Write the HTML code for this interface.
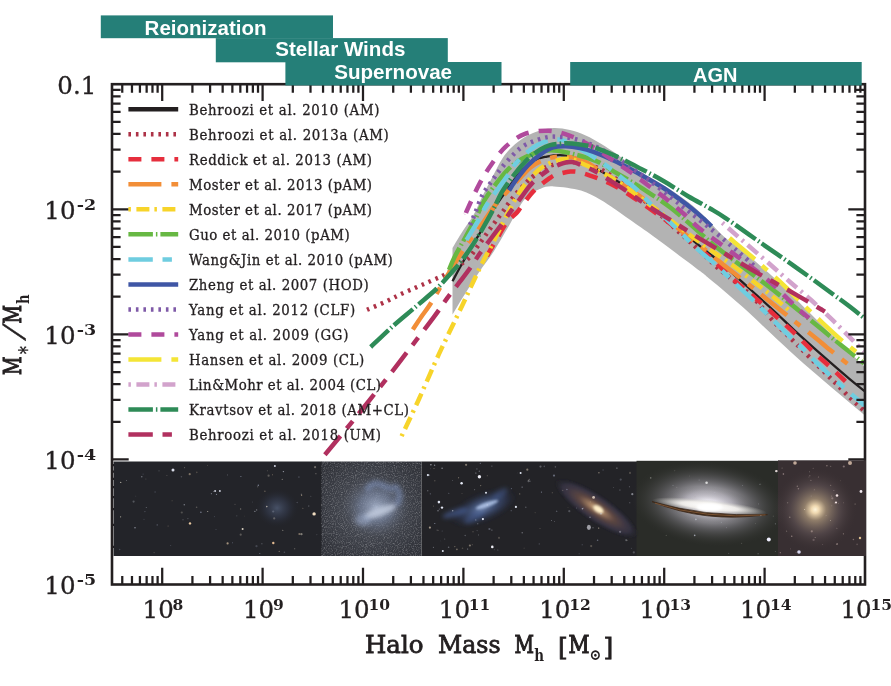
<!DOCTYPE html>
<html><head><meta charset="utf-8"><title>Stellar-to-halo mass relation</title>
<style>html,body{margin:0;padding:0;background:#fff}svg{display:block}</style></head>
<body>
<svg width="891" height="686" viewBox="0 0 891 686">
<rect width="891" height="686" fill="#fff"/>
<path d="M452.5 248.0C454.2 245.2 459.3 236.5 462.8 231.0C466.3 225.5 470.3 220.7 473.5 215.0C476.7 209.3 478.9 203.2 482.0 197.0C485.1 190.8 488.5 184.4 491.9 178.0C495.3 171.6 499.0 163.6 502.4 158.4C505.8 153.2 508.2 150.6 512.0 147.0C515.8 143.4 520.3 139.8 525.0 137.0C529.7 134.2 535.2 132.0 540.0 130.5C544.8 129.0 549.0 128.1 554.0 128.0C559.0 127.9 564.7 128.8 570.0 130.0C575.3 131.2 580.5 133.1 585.7 135.4C590.9 137.7 596.2 140.8 601.4 144.0C606.6 147.2 612.6 151.2 617.0 154.3C621.4 157.4 624.2 159.6 628.0 162.5C631.8 165.4 634.0 167.7 640.0 171.5C646.0 175.3 656.0 180.4 664.0 185.5C672.0 190.6 681.3 196.9 688.0 202.0C694.7 207.1 700.1 212.3 704.0 216.0C707.9 219.7 707.8 220.2 711.5 224.0C715.2 227.8 720.6 233.9 726.0 238.5C731.4 243.1 738.3 247.0 744.0 251.5C749.7 256.0 754.6 260.8 760.0 265.5C765.4 270.2 767.7 271.6 776.5 280.0C785.3 288.4 800.8 304.0 812.9 316.0C825.0 328.0 840.8 343.5 849.4 352.0C858.0 360.5 862.0 364.5 864.5 367.0L864.5 415.0C862.0 412.9 858.0 409.7 849.4 402.5C840.8 395.3 825.0 382.2 812.9 371.6C800.8 361.0 787.1 348.5 776.5 338.7C765.9 328.9 757.7 320.7 749.3 313.0C740.9 305.3 732.4 298.1 725.9 292.5C719.4 286.9 714.3 282.9 710.0 279.3C705.7 275.7 705.6 275.4 700.0 271.1C694.4 266.8 684.4 259.4 676.6 253.6C668.8 247.8 661.1 241.8 653.3 236.2C645.5 230.6 636.4 224.3 630.0 219.8C623.6 215.3 619.7 212.4 614.7 209.0C609.7 205.6 605.6 202.6 600.0 199.5C594.4 196.4 588.7 192.7 581.0 190.5C573.3 188.3 560.7 186.7 554.0 186.4C547.3 186.1 545.4 186.6 540.6 188.7C535.8 190.8 530.3 192.6 525.0 198.8C519.7 205.0 514.3 216.8 509.0 225.7C503.7 234.6 498.1 244.6 493.4 252.0C488.6 259.4 485.2 263.0 480.5 270.0C475.8 277.0 469.7 286.6 465.0 294.0C460.3 301.4 454.6 311.2 452.5 314.6Z" fill="#b3b3b3"/>
<path d="M452.5 281.3C453.7 279.1 456.0 274.5 459.5 268.2C463.0 261.9 469.4 250.7 473.5 243.7C477.6 236.7 480.6 232.1 484.0 226.2C487.4 220.3 490.1 214.7 494.0 208.5C497.9 202.3 503.3 195.0 507.6 189.0C511.9 183.0 515.5 177.2 520.0 172.5C524.5 167.8 529.8 163.2 534.3 160.6C538.8 157.9 542.5 157.5 546.8 156.6C551.1 155.7 555.8 155.2 560.0 155.2C564.2 155.2 567.7 155.7 572.0 156.8C576.3 157.9 580.8 159.5 585.7 162.0C590.6 164.5 596.2 168.4 601.4 171.6C606.6 174.8 611.9 177.6 617.1 181.0C622.4 184.4 628.4 188.9 632.9 192.0C637.4 195.1 634.4 192.1 643.9 199.8C653.4 207.5 677.8 228.1 690.0 238.1C702.2 248.1 706.7 251.0 716.9 259.6C727.1 268.2 741.1 281.1 751.0 290.0C760.9 298.9 768.9 306.2 776.2 313.0C783.5 319.8 787.1 323.6 794.7 330.6C802.3 337.6 812.9 347.1 822.0 355.2C831.1 363.2 842.3 372.9 849.4 378.9C856.5 384.9 862.0 389.0 864.5 391.0" fill="none" stroke="#231f20" stroke-width="2.3"/>
<path d="M367.0 309.8C370.0 308.5 379.5 304.6 385.0 302.0C390.5 299.4 394.9 296.9 400.0 294.5C405.1 292.1 410.8 289.8 415.7 287.6C420.6 285.4 425.0 283.6 429.7 281.5C434.4 279.4 439.5 277.4 443.7 275.2C447.9 272.9 450.9 270.8 455.0 268.0C459.1 265.2 464.5 262.1 468.2 258.6C471.9 255.1 474.1 251.1 477.0 247.2C479.9 243.3 482.8 239.1 485.7 235.0C488.6 230.9 491.6 226.7 494.5 222.7C497.4 218.7 500.2 215.1 503.2 211.0C506.2 206.9 508.9 202.5 512.3 198.3C515.6 194.1 519.6 189.5 523.3 185.7C527.0 181.9 530.1 178.7 534.3 175.5C538.5 172.3 542.4 168.6 548.4 166.3C554.4 164.1 561.4 161.6 570.0 162.0C578.6 162.4 588.3 163.2 600.0 169.0C611.7 174.8 626.7 186.3 640.0 197.0C653.3 207.7 670.0 224.0 680.0 233.0C690.0 242.0 693.5 245.1 700.0 251.0C706.5 256.9 712.0 262.8 718.7 268.6C725.4 274.4 733.7 280.3 740.3 286.0C746.9 291.7 752.8 297.2 758.2 303.0C763.6 308.8 766.7 313.9 772.8 320.5C778.9 327.1 788.6 336.3 794.7 342.4C800.8 348.5 803.2 350.9 809.3 357.0C815.4 363.1 824.4 372.1 831.1 378.8C837.8 385.5 843.8 391.7 849.4 397.1C855.0 402.5 862.0 408.7 864.5 411.0" fill="none" stroke="#ad3247" stroke-width="4.5" stroke-dasharray="2.6 4.9"/>
<path d="M487.0 256.0C488.8 252.8 494.7 242.7 498.0 237.0C501.3 231.3 503.8 226.1 507.0 222.0C510.2 217.9 514.5 215.1 517.0 212.4C519.5 209.8 518.8 209.8 521.7 206.1C524.6 202.4 529.6 195.1 534.3 190.4C539.0 185.7 546.3 180.5 550.0 177.9C553.7 175.3 552.9 175.8 556.3 174.7C559.7 173.6 566.4 172.0 570.4 171.6C574.4 171.2 575.6 171.3 580.0 172.4C584.4 173.5 591.7 176.1 596.7 177.9C601.7 179.8 605.3 181.2 610.0 183.5C614.7 185.8 620.0 188.9 625.0 192.0C630.0 195.1 635.0 198.6 640.0 202.0C645.0 205.4 650.3 209.2 655.0 212.5C659.7 215.8 662.2 217.4 668.0 222.0C673.8 226.6 682.2 233.3 690.0 240.0C697.8 246.7 707.8 255.5 715.0 262.0C722.2 268.5 725.8 272.6 733.0 279.0C740.2 285.4 751.0 294.2 758.2 300.5C765.5 306.8 770.4 311.4 776.5 316.9C782.6 322.4 788.6 327.5 794.7 333.3C800.8 339.1 807.1 346.0 812.9 351.5C818.7 357.0 823.2 360.5 829.3 366.1C835.4 371.7 845.8 381.7 849.4 385.3C853.0 388.9 850.7 387.6 851.0 388.0" fill="none" stroke="#e62e3d" stroke-width="4.5" stroke-dasharray="13 10"/>
<path d="M412.8 329.6C414.2 327.5 418.2 321.3 421.0 317.2C423.8 313.1 426.5 309.9 429.7 305.0C432.9 300.1 436.5 293.7 440.2 287.5C443.9 281.3 448.2 274.1 452.0 268.0C455.8 261.9 460.0 255.3 463.0 250.7C466.0 246.1 467.7 243.4 470.0 240.2C472.3 237.0 473.1 236.9 477.0 231.5C480.9 226.1 489.1 213.6 493.4 207.7C497.7 201.8 498.2 201.5 502.9 196.3C507.6 191.1 517.0 181.2 521.7 176.3C526.4 171.4 527.4 169.7 531.1 166.9C534.8 164.2 539.2 161.5 543.7 159.8C548.2 158.1 553.2 157.0 557.9 156.6C562.6 156.2 567.4 156.5 572.0 157.4C576.6 158.3 580.8 159.7 585.7 162.1C590.6 164.5 596.2 168.4 601.4 171.6C606.6 174.8 611.9 177.6 617.1 181.0C622.4 184.4 628.4 188.9 632.9 192.0C637.4 195.1 634.4 191.6 643.9 199.3C653.4 207.0 679.3 229.3 690.0 238.1C700.7 246.9 702.0 247.2 708.0 252.0C714.0 256.8 719.0 261.3 725.9 266.8C732.8 272.3 742.7 279.8 749.3 285.0C755.9 290.2 759.7 293.4 765.4 298.0C771.1 302.6 778.5 308.6 783.4 312.5C788.3 316.4 789.2 317.1 794.7 321.5C800.2 325.9 811.1 334.3 816.6 338.7C822.1 343.1 822.0 343.5 827.5 347.9C833.0 352.3 845.4 362.1 849.4 365.2C853.4 368.3 850.9 366.4 851.2 366.7" fill="none" stroke="#f28e37" stroke-width="4.5" stroke-dasharray="33 10 7 10"/>
<path d="M401.6 436.1C404.5 429.9 412.8 412.6 419.0 399.0C425.2 385.4 432.5 368.0 438.8 354.4C445.1 340.8 452.3 326.2 456.6 317.2C460.9 308.2 461.9 306.2 464.7 300.2C467.5 294.2 470.3 288.0 473.5 281.2C476.7 274.4 480.8 265.8 484.0 259.5C487.2 253.2 489.0 250.8 492.7 243.5C496.4 236.2 502.0 224.3 506.3 216.0C510.6 207.7 515.0 199.4 518.6 193.6C522.2 187.8 524.3 185.2 528.0 181.0C531.7 176.8 535.9 171.8 540.6 168.4C545.3 165.0 551.3 162.2 556.3 160.6C561.3 159.0 566.0 158.5 570.4 159.0C574.8 159.5 577.4 161.5 582.6 163.7C587.8 165.9 595.6 169.5 601.4 172.4C607.1 175.3 611.9 177.7 617.1 181.0C622.4 184.3 627.1 187.8 632.9 192.0C638.7 196.2 646.5 202.2 651.7 206.1C656.9 210.0 657.9 210.8 664.3 215.6C670.7 220.4 682.1 229.2 690.0 235.0C697.9 240.8 704.0 245.4 711.5 250.7C719.0 256.0 728.0 261.9 734.9 267.0C741.8 272.1 746.6 276.2 752.8 281.0C759.0 285.8 765.8 291.0 772.0 296.0C778.2 301.0 787.0 308.5 790.0 311.0" fill="none" stroke="#f7d42a" stroke-width="4.5" stroke-dasharray="2.5 5.5 13 5"/>
<path d="M449.0 270.0C449.9 267.9 451.6 262.9 454.2 257.7C456.8 252.4 461.2 244.9 464.7 238.5C468.2 232.1 472.5 224.4 475.2 219.2C477.9 213.9 478.8 211.3 481.0 207.0C483.2 202.7 484.0 200.0 488.7 193.6C493.4 187.2 502.6 174.7 509.1 168.4C515.6 162.1 521.5 158.9 528.0 155.9C534.5 152.9 541.9 151.0 548.4 150.4C554.9 149.8 559.2 150.8 567.0 152.5C574.8 154.2 587.3 157.4 595.1 160.6C602.9 163.8 607.7 167.9 614.0 171.6C620.3 175.3 626.6 178.8 632.9 182.6C639.2 186.4 645.4 190.4 651.7 194.6C658.0 198.8 664.2 202.8 670.6 207.7C677.0 212.6 683.2 218.1 690.0 224.0C696.8 229.9 705.5 237.9 711.5 243.0C717.5 248.1 720.5 250.2 725.9 254.3C731.3 258.4 737.3 262.9 743.9 267.8C750.5 272.8 758.8 279.0 765.4 284.0C772.0 289.0 777.6 293.4 783.4 298.0C789.2 302.6 793.6 306.2 800.0 311.5C806.4 316.8 815.0 323.9 822.0 329.6C829.0 335.4 835.1 340.4 842.1 346.0C849.1 351.6 860.4 360.5 864.0 363.4" fill="none" stroke="#67b843" stroke-width="4.5" stroke-dasharray="24.5 3 1.5 3"/>
<path d="M466.5 240.0C468.2 237.1 473.5 228.7 477.0 222.7C480.5 216.7 482.5 211.5 487.3 204.0C492.1 196.5 501.1 184.9 506.0 177.9C510.9 170.9 511.8 167.6 517.0 162.1C522.2 156.6 530.3 148.8 537.4 145.1C544.5 141.3 552.3 138.9 559.4 139.6C566.5 140.2 573.0 145.2 580.0 149.0C587.0 152.8 594.4 157.3 601.4 162.1C608.4 166.9 616.1 173.4 621.9 177.9C627.7 182.4 631.0 184.4 636.0 188.9C641.0 193.4 645.2 198.7 651.7 205.0C658.2 211.3 667.4 219.7 675.0 227.0C682.6 234.3 690.5 242.7 697.2 248.9C703.9 255.1 708.5 258.2 715.1 264.2C721.7 270.2 730.4 278.9 736.7 284.8C743.0 290.8 748.1 295.4 752.8 299.9C757.5 304.4 759.5 306.6 765.0 312.0C770.5 317.4 779.4 326.3 785.6 332.3C791.8 338.3 796.2 342.3 802.0 347.9C807.8 353.5 813.5 359.7 820.2 366.1C826.9 372.5 834.7 379.5 842.1 386.1C849.5 392.7 860.8 402.3 864.5 405.5" fill="none" stroke="#6fcde0" stroke-width="4.5" stroke-dasharray="24.4 9.7 9.4 9.7"/>
<path d="M509.1 190.4C510.2 188.8 512.2 185.2 515.4 181.0C518.5 176.8 523.8 169.8 528.0 165.3C532.2 160.9 536.4 157.3 540.6 154.3C544.8 151.3 548.9 148.8 553.1 147.4C557.3 146.1 561.2 146.1 565.7 146.2C570.2 146.3 575.4 147.1 580.0 148.0C584.6 148.9 587.4 149.6 593.6 151.9C599.8 154.2 609.1 158.2 617.0 162.0C624.9 165.8 632.8 170.3 640.7 174.7C648.6 179.1 656.4 183.4 664.3 188.5C672.2 193.6 681.3 200.5 687.9 205.5C694.5 210.5 699.7 215.2 703.6 218.7C707.5 222.2 710.2 225.1 711.5 226.4" fill="none" stroke="#3f56a5" stroke-width="4.5"/>
<path d="M470.0 225.0C470.9 223.0 473.1 218.0 475.2 213.0C477.3 208.0 479.6 200.4 482.4 195.1C485.2 189.8 488.9 185.3 491.9 181.0C494.9 176.7 497.4 173.1 500.5 169.2C503.6 165.3 507.2 161.1 510.7 157.4C514.2 153.7 517.8 149.9 521.7 147.2C525.6 144.4 529.8 142.6 534.3 140.9C538.8 139.2 543.9 137.7 548.4 137.0C552.9 136.3 556.6 136.7 561.0 137.0C565.4 137.3 570.2 137.8 575.0 139.0C579.8 140.2 584.2 141.5 590.0 144.0C595.8 146.5 603.3 150.2 610.0 154.0C616.7 157.8 623.3 162.5 630.0 167.0C636.7 171.5 643.0 175.8 650.0 181.0C657.0 186.2 665.5 193.1 672.1 198.3C678.7 203.5 682.5 206.6 689.4 212.0C696.3 217.4 705.7 224.8 713.3 230.9C720.9 237.1 727.7 242.8 734.9 248.9C742.1 255.1 752.8 264.7 756.4 267.8" fill="none" stroke="#7f5aa8" stroke-width="4.5" stroke-dasharray="2.6 4.9"/>
<path d="M466.0 213.0C466.2 212.4 465.3 214.1 467.5 209.3C469.7 204.5 475.2 191.7 479.3 184.1C483.4 176.5 487.4 170.0 491.9 163.7C496.3 157.4 500.5 151.4 506.0 146.4C511.5 141.4 517.8 136.5 524.9 133.9C532.0 131.3 540.8 130.4 548.4 130.7C556.0 131.0 562.9 133.2 570.2 135.8C577.5 138.4 585.2 142.5 592.0 146.4C598.8 150.3 604.6 154.8 610.9 159.0C617.2 163.2 623.4 167.2 629.7 171.6C636.0 176.0 642.3 181.0 648.6 185.7C654.9 190.4 661.1 194.8 667.4 199.9C673.7 205.0 681.0 211.3 686.3 216.0C691.6 220.7 693.0 223.1 699.0 228.0C705.0 232.9 715.4 240.2 722.3 245.3C729.2 250.4 733.7 253.9 740.3 258.8C746.9 263.8 755.8 270.2 761.8 275.0C767.8 279.8 771.4 283.2 776.2 287.6C781.0 292.1 786.4 297.7 790.6 301.7C794.8 305.7 798.2 309.0 801.3 311.7C804.4 314.4 807.7 316.9 809.0 318.0" fill="none" stroke="#b04a9c" stroke-width="4.5" stroke-dasharray="13 10"/>
<path d="M729.5 238.1C733.1 241.1 745.0 250.9 751.0 256.0C757.0 261.1 759.7 263.5 765.4 268.6C771.1 273.7 778.9 280.6 785.2 286.6C791.5 292.6 796.9 298.6 803.0 304.5C809.1 310.4 815.5 316.3 822.0 322.3C828.5 328.3 835.1 334.7 842.1 340.6C849.1 346.5 860.4 355.0 864.0 357.9" fill="none" stroke="#f4e536" stroke-width="4.5" stroke-dasharray="33 10 7 10"/>
<path d="M722.3 222.8C725.9 226.0 735.8 234.7 743.9 241.7C752.0 248.7 763.0 258.2 770.8 265.0C778.6 271.8 784.0 276.8 790.6 282.5C797.2 288.2 803.8 293.5 810.5 299.5C817.2 305.5 824.6 312.5 831.1 318.7C837.6 324.9 843.9 331.4 849.4 336.9C854.9 342.4 861.6 349.1 864.0 351.5" fill="none" stroke="#d2a3cc" stroke-width="4.5" stroke-dasharray="2.5 5.5 13 5"/>
<path d="M370.7 347.0C374.2 343.7 384.1 334.0 391.7 327.2C399.3 320.4 409.1 312.5 416.5 306.1C423.9 299.7 430.6 294.4 436.3 289.0C442.0 283.6 446.6 278.1 450.7 273.5C454.8 268.9 457.4 266.2 461.2 261.2C465.0 256.2 469.7 249.5 473.5 243.7C477.3 237.9 480.6 232.1 484.0 226.2C487.4 220.2 490.9 214.0 494.0 208.0C497.1 202.0 499.3 196.2 502.9 190.4C506.5 184.6 511.2 178.3 515.4 173.1C519.6 167.9 523.8 163.0 528.0 159.0C532.2 155.0 536.9 151.6 540.6 149.3C544.3 147.0 545.8 146.1 550.0 145.1C554.2 144.1 560.7 143.4 565.7 143.3C570.7 143.2 575.4 143.8 580.0 144.5C584.6 145.2 587.4 145.2 593.6 147.2C599.8 149.2 609.1 153.0 617.0 156.6C624.9 160.2 632.8 164.5 640.7 168.7C648.6 172.8 656.3 176.9 664.3 181.5C672.3 186.1 680.9 192.0 688.5 196.5C696.1 201.0 703.8 204.9 710.0 208.5C716.2 212.1 717.3 212.5 725.9 218.3C734.5 224.1 749.8 235.1 761.8 243.5C773.8 251.9 785.7 260.1 797.7 268.6C809.7 277.1 825.0 288.3 833.7 294.7C842.4 301.1 845.0 302.9 850.0 306.8C855.0 310.7 861.7 316.0 864.0 317.8" fill="none" stroke="#2e8b57" stroke-width="4.5" stroke-dasharray="24.5 3 1.5 3"/>
<path d="M324.9 454.7C329.8 448.7 344.7 431.0 354.6 418.8C364.5 406.6 375.2 393.2 384.3 381.6C393.4 370.0 400.9 360.1 409.1 349.4C417.4 338.7 427.5 325.7 433.8 317.2C440.1 308.7 442.9 304.0 447.2 298.2C451.5 292.4 455.7 287.2 459.5 282.2C463.3 277.2 466.5 273.1 470.0 268.2C473.5 263.2 477.0 257.4 480.5 252.5C484.0 247.6 487.5 243.2 491.0 238.5C494.5 233.8 498.1 229.1 501.5 224.5C504.9 219.9 507.9 215.3 511.3 210.7C514.7 206.1 518.1 201.4 521.7 196.7C525.3 192.0 528.2 187.0 532.7 182.6C537.2 178.2 543.4 173.2 548.4 170.0C553.4 166.8 558.7 164.7 562.6 163.4C566.5 162.1 569.2 161.9 572.0 162.1C574.8 162.2 575.8 162.9 579.4 164.3C583.0 165.7 588.6 167.9 593.6 170.5C598.6 173.1 604.3 176.9 609.3 180.0C614.3 183.1 618.4 185.6 623.4 188.9C628.4 192.2 633.9 196.3 639.1 199.9C644.4 203.5 650.2 207.4 654.9 210.4C659.6 213.4 660.0 213.5 667.4 218.1C674.8 222.7 689.2 232.1 699.0 238.1C708.8 244.1 716.9 248.9 725.9 254.3C734.9 259.7 744.4 265.5 752.8 270.4C761.2 275.3 768.7 279.3 776.2 283.5C783.7 287.7 789.9 291.1 797.7 295.6C805.5 300.1 818.2 307.6 822.9 310.4C827.6 313.2 825.2 312.1 825.7 312.5" fill="none" stroke="#b1305f" stroke-width="4.5" stroke-dasharray="24.4 9.7 9.4 9.7"/>
<rect x="112.0" y="84.2" width="753.0" height="500.3" fill="none" stroke="#231f20" stroke-width="2.6"/>
<path d="M122.25 84.2v8.6M122.25 584.5v-8.6M131.98 84.2v8.6M131.98 584.5v-8.6M139.93 84.2v8.6M139.93 584.5v-8.6M146.65 84.2v8.6M146.65 584.5v-8.6M152.47 84.2v8.6M152.47 584.5v-8.6M157.61 84.2v8.6M157.61 584.5v-8.6M162.20 84.2v16.7M162.20 584.5v-16.7M192.42 84.2v8.6M192.42 584.5v-8.6M210.10 84.2v8.6M210.10 584.5v-8.6M222.65 84.2v8.6M222.65 584.5v-8.6M232.38 84.2v8.6M232.38 584.5v-8.6M240.33 84.2v8.6M240.33 584.5v-8.6M247.05 84.2v8.6M247.05 584.5v-8.6M252.87 84.2v8.6M252.87 584.5v-8.6M258.01 84.2v8.6M258.01 584.5v-8.6M262.60 84.2v16.7M262.60 584.5v-16.7M292.82 84.2v8.6M292.82 584.5v-8.6M310.50 84.2v8.6M310.50 584.5v-8.6M323.05 84.2v8.6M323.05 584.5v-8.6M332.78 84.2v8.6M332.78 584.5v-8.6M340.73 84.2v8.6M340.73 584.5v-8.6M347.45 84.2v8.6M347.45 584.5v-8.6M353.27 84.2v8.6M353.27 584.5v-8.6M358.41 84.2v8.6M358.41 584.5v-8.6M363.00 84.2v16.7M363.00 584.5v-16.7M393.22 84.2v8.6M393.22 584.5v-8.6M410.90 84.2v8.6M410.90 584.5v-8.6M423.45 84.2v8.6M423.45 584.5v-8.6M433.18 84.2v8.6M433.18 584.5v-8.6M441.13 84.2v8.6M441.13 584.5v-8.6M447.85 84.2v8.6M447.85 584.5v-8.6M453.67 84.2v8.6M453.67 584.5v-8.6M458.81 84.2v8.6M458.81 584.5v-8.6M463.40 84.2v16.7M463.40 584.5v-16.7M493.62 84.2v8.6M493.62 584.5v-8.6M511.30 84.2v8.6M511.30 584.5v-8.6M523.85 84.2v8.6M523.85 584.5v-8.6M533.58 84.2v8.6M533.58 584.5v-8.6M541.53 84.2v8.6M541.53 584.5v-8.6M548.25 84.2v8.6M548.25 584.5v-8.6M554.07 84.2v8.6M554.07 584.5v-8.6M559.21 84.2v8.6M559.21 584.5v-8.6M563.80 84.2v16.7M563.80 584.5v-16.7M594.02 84.2v8.6M594.02 584.5v-8.6M611.70 84.2v8.6M611.70 584.5v-8.6M624.25 84.2v8.6M624.25 584.5v-8.6M633.98 84.2v8.6M633.98 584.5v-8.6M641.93 84.2v8.6M641.93 584.5v-8.6M648.65 84.2v8.6M648.65 584.5v-8.6M654.47 84.2v8.6M654.47 584.5v-8.6M659.61 84.2v8.6M659.61 584.5v-8.6M664.20 84.2v16.7M664.20 584.5v-16.7M694.42 84.2v8.6M694.42 584.5v-8.6M712.10 84.2v8.6M712.10 584.5v-8.6M724.65 84.2v8.6M724.65 584.5v-8.6M734.38 84.2v8.6M734.38 584.5v-8.6M742.33 84.2v8.6M742.33 584.5v-8.6M749.05 84.2v8.6M749.05 584.5v-8.6M754.87 84.2v8.6M754.87 584.5v-8.6M760.01 84.2v8.6M760.01 584.5v-8.6M764.60 84.2v16.7M764.60 584.5v-16.7M794.82 84.2v8.6M794.82 584.5v-8.6M812.50 84.2v8.6M812.50 584.5v-8.6M825.05 84.2v8.6M825.05 584.5v-8.6M834.78 84.2v8.6M834.78 584.5v-8.6M842.73 84.2v8.6M842.73 584.5v-8.6M849.45 84.2v8.6M849.45 584.5v-8.6M855.27 84.2v8.6M855.27 584.5v-8.6M860.41 84.2v8.6M860.41 584.5v-8.6M112.0 546.85h8.6M865.0 546.85h-8.6M112.0 524.82h8.6M865.0 524.82h-8.6M112.0 509.20h8.6M865.0 509.20h-8.6M112.0 497.08h8.6M865.0 497.08h-8.6M112.0 487.17h8.6M865.0 487.17h-8.6M112.0 478.80h8.6M865.0 478.80h-8.6M112.0 471.55h8.6M865.0 471.55h-8.6M112.0 465.15h8.6M865.0 465.15h-8.6M112.0 459.43h16.7M865.0 459.43h-16.7M112.0 421.77h8.6M865.0 421.77h-8.6M112.0 399.75h8.6M865.0 399.75h-8.6M112.0 384.12h8.6M865.0 384.12h-8.6M112.0 372.00h8.6M865.0 372.00h-8.6M112.0 362.10h8.6M865.0 362.10h-8.6M112.0 353.72h8.6M865.0 353.72h-8.6M112.0 346.47h8.6M865.0 346.47h-8.6M112.0 340.07h8.6M865.0 340.07h-8.6M112.0 334.35h16.7M865.0 334.35h-16.7M112.0 296.70h8.6M865.0 296.70h-8.6M112.0 274.67h8.6M865.0 274.67h-8.6M112.0 259.05h8.6M865.0 259.05h-8.6M112.0 246.93h8.6M865.0 246.93h-8.6M112.0 237.02h8.6M865.0 237.02h-8.6M112.0 228.65h8.6M865.0 228.65h-8.6M112.0 221.40h8.6M865.0 221.40h-8.6M112.0 215.00h8.6M865.0 215.00h-8.6M112.0 209.28h16.7M865.0 209.28h-16.7M112.0 171.62h8.6M865.0 171.62h-8.6M112.0 149.60h8.6M865.0 149.60h-8.6M112.0 133.97h8.6M865.0 133.97h-8.6M112.0 121.85h8.6M865.0 121.85h-8.6M112.0 111.95h8.6M865.0 111.95h-8.6M112.0 103.57h8.6M865.0 103.57h-8.6M112.0 96.32h8.6M865.0 96.32h-8.6M112.0 89.92h8.6M865.0 89.92h-8.6" stroke="#231f20" stroke-width="2.25" fill="none"/>
<defs>
<radialGradient id="gDw" cx="50%" cy="50%" r="50%"><stop offset="0" stop-color="#5f6f8f" stop-opacity=".6"/><stop offset=".5" stop-color="#3c4660" stop-opacity=".38"/><stop offset="1" stop-color="#20222a" stop-opacity="0"/></radialGradient>
<radialGradient id="gLmc" cx="50%" cy="50%" r="50%"><stop offset="0" stop-color="#a9b6d0" stop-opacity=".95"/><stop offset=".45" stop-color="#7784a0" stop-opacity=".7"/><stop offset="1" stop-color="#4a4d55" stop-opacity="0"/></radialGradient>
<radialGradient id="gLmcBg" cx="50%" cy="50%" r="60%"><stop offset="0" stop-color="#50545e"/><stop offset="1" stop-color="#32343b"/></radialGradient>
<radialGradient id="gSp" cx="50%" cy="50%" r="50%"><stop offset="0" stop-color="#9fb6e4" stop-opacity=".9"/><stop offset=".3" stop-color="#5f7ebc" stop-opacity=".7"/><stop offset=".7" stop-color="#3a4f86" stop-opacity=".38"/><stop offset="1" stop-color="#1c2030" stop-opacity="0"/></radialGradient>
<radialGradient id="gAnd" cx="50%" cy="50%" r="50%"><stop offset="0" stop-color="#fff0d0"/><stop offset=".13" stop-color="#c89c74" stop-opacity=".95"/><stop offset=".42" stop-color="#74544c" stop-opacity=".8"/><stop offset=".8" stop-color="#45405c" stop-opacity=".55"/><stop offset="1" stop-color="#222230" stop-opacity="0"/></radialGradient>
<radialGradient id="gSomH" cx="50%" cy="50%" r="50%"><stop offset="0" stop-color="#ffffff" stop-opacity=".95"/><stop offset=".3" stop-color="#e6e2ee" stop-opacity=".72"/><stop offset=".6" stop-color="#a29eaa" stop-opacity=".38"/><stop offset="1" stop-color="#3a3a36" stop-opacity="0"/></radialGradient>
<radialGradient id="gSomC" cx="50%" cy="50%" r="50%"><stop offset="0" stop-color="#ffffff"/><stop offset=".5" stop-color="#f4f2ee" stop-opacity=".9"/><stop offset="1" stop-color="#c8c8c0" stop-opacity="0"/></radialGradient>
<radialGradient id="gEll" cx="50%" cy="50%" r="50%"><stop offset="0" stop-color="#fff6dc"/><stop offset=".09" stop-color="#efd8b0"/><stop offset=".26" stop-color="#a08c74" stop-opacity=".85"/><stop offset=".6" stop-color="#66585a" stop-opacity=".5"/><stop offset="1" stop-color="#3a3032" stop-opacity="0"/></radialGradient>
<filter id="grain" x="0" y="0" width="100%" height="100%"><feTurbulence type="fractalNoise" baseFrequency="0.9" numOctaves="2" seed="3" result="n"/><feColorMatrix in="n" type="matrix" values="0 0 0 0 1  0 0 0 0 1  0 0 0 0 1  2.2 0 0 0 -1.0"/></filter>
<filter id="b2" x="-30%" y="-30%" width="160%" height="160%"><feGaussianBlur stdDeviation="2"/></filter><filter id="b1" x="-30%" y="-30%" width="160%" height="160%"><feGaussianBlur stdDeviation="1"/></filter><filter id="b4" x="-30%" y="-30%" width="160%" height="160%"><feGaussianBlur stdDeviation="4"/></filter>
<filter id="b05" x="-50%" y="-50%" width="200%" height="200%"><feGaussianBlur stdDeviation="0.45"/></filter>
<clipPath id="cs"><rect x="113.6" y="459.8" width="752.4" height="96.2"/></clipPath>
</defs>
<g clip-path="url(#cs)">
<rect x="113" y="461.5" width="209" height="94.6" fill="#232429"/>
<rect x="321.6" y="461.5" width="100" height="94.6" fill="url(#gLmcBg)"/>
<rect x="321.6" y="461.5" width="100" height="94.6" filter="url(#grain)" opacity=".3"/>
<rect x="421.6" y="461.5" width="216" height="94.6" fill="#232327"/>
<rect x="636.5" y="460.8" width="142" height="95.3" fill="#2a2c28"/>
<rect x="778" y="460.3" width="88" height="95.7" fill="#382f32"/>
<ellipse cx="277" cy="508" rx="22" ry="20" fill="url(#gDw)"/>
<ellipse cx="376" cy="507" rx="36" ry="33" fill="url(#gLmc)" opacity=".9"/>
<g filter="url(#b2)">
<ellipse cx="380" cy="511.5" rx="17" ry="4.5" transform="rotate(-20 380 511.5)" fill="#c6cfe2" opacity=".8"/>
<path d="M368 488 q6 -7 14 -3 q9 5 14 2 q6 6 2 16" stroke="#8fa6dc" stroke-width="6" fill="none" opacity=".42" stroke-linecap="round"/>
<ellipse cx="363" cy="520" rx="8" ry="6" fill="#9fb0d0" opacity=".5"/>
</g>
<g filter="url(#b2)">
<ellipse cx="483" cy="507.5" rx="36" ry="14.5" transform="rotate(-22 483 507.5)" fill="url(#gSp)" opacity=".85"/>
<ellipse cx="455" cy="513" rx="13" ry="3.5" transform="rotate(-18 455 513)" fill="#4f6cae" opacity=".5"/>
<ellipse cx="475" cy="517" rx="12" ry="4" transform="rotate(-30 475 517)" fill="#4f6cae" opacity=".35"/>
<ellipse cx="500" cy="494" rx="9" ry="4" transform="rotate(-35 500 494)" fill="#4f6cae" opacity=".35"/>
</g>
<ellipse cx="487" cy="504.6" rx="12" ry="2.4" transform="rotate(-20 487 504.6)" fill="#b8ccf0" opacity=".8" filter="url(#b1)"/>
<g filter="url(#b1)">
<ellipse cx="596.5" cy="508.5" rx="50" ry="13.5" transform="rotate(34 596.5 508.5)" fill="url(#gAnd)" opacity=".9"/>
<ellipse cx="598.4" cy="509.3" rx="5.5" ry="3" transform="rotate(34 598.4 509.3)" fill="#ffeec8"/>
</g>
<ellipse cx="588.9" cy="527.3" rx="2" ry="2.6" fill="#c8c8d0" opacity=".75" filter="url(#b05)"/>
<circle cx="593.6" cy="497.4" r="1.4" fill="#e8d8c8" opacity=".85" filter="url(#b05)"/>
<ellipse cx="709" cy="504" rx="78" ry="42" transform="rotate(6 709 504)" fill="url(#gSomH)"/>
<ellipse cx="709.5" cy="505" rx="46" ry="18" transform="rotate(6 709.5 505)" fill="url(#gSomH)" opacity=".8"/>
<ellipse cx="709.5" cy="506.3" rx="57.5" ry="6.5" transform="rotate(6.4 709.5 506.3)" fill="url(#gSomC)"/>
<path d="M652 501.6 Q704 517 767.5 514.6 Q705 523.6 652 501.6Z" fill="#3d2a1a" stroke="#3d2a1a" stroke-width=".8"/>
<path d="M655 503.2 Q705 519.4 765.5 514.9" stroke="#8a5c38" stroke-width="1" fill="none" opacity=".8"/>
<ellipse cx="709.5" cy="507.3" rx="13" ry="4" fill="#ffffff" filter="url(#b1)"/>
<circle cx="815.2" cy="509.5" r="42" fill="url(#gEll)"/>
<g filter="url(#b05)"><circle cx="181.4" cy="476.7" r="0.8" fill="#c8ccd8" opacity="0.25"/><circle cx="283.4" cy="471.6" r="0.7" fill="#c8ccd8" opacity="0.7"/><circle cx="159.0" cy="470.8" r="0.6" fill="#c8ccd8" opacity="0.3"/><circle cx="133.6" cy="501.6" r="1.1" fill="#c8ccd8" opacity="0.3"/><circle cx="244.3" cy="516.1" r="0.45" fill="#d8c0a0" opacity="0.25"/><circle cx="315.1" cy="467.2" r="1.1" fill="#e0d8c8" opacity="0.4"/><circle cx="200.9" cy="512.2" r="0.7" fill="#a8b0c8" opacity="0.7"/><circle cx="282.3" cy="479.4" r="0.7" fill="#e0d8c8" opacity="0.4"/><circle cx="135.0" cy="527.8" r="0.7" fill="#c8ccd8" opacity="0.7"/><circle cx="157.2" cy="524.9" r="0.6" fill="#a8b0c8" opacity="0.5"/><circle cx="235.0" cy="504.2" r="0.55" fill="#e0d8c8" opacity="0.3"/><circle cx="258.3" cy="485.2" r="0.7" fill="#a8b0c8" opacity="0.7"/><circle cx="216.5" cy="494.3" r="0.6" fill="#a8b0c8" opacity="0.7"/><circle cx="315.9" cy="473.7" r="0.6" fill="#e0d8c8" opacity="0.4"/><circle cx="146.2" cy="507.5" r="0.45" fill="#c8ccd8" opacity="0.7"/><circle cx="232.5" cy="542.7" r="0.55" fill="#a8b0c8" opacity="0.4"/><circle cx="236.8" cy="515.8" r="0.6" fill="#c8ccd8" opacity="0.25"/><circle cx="308.7" cy="506.1" r="0.8" fill="#c8ccd8" opacity="0.25"/><circle cx="264.9" cy="491.2" r="0.7" fill="#d8c0a0" opacity="0.4"/><circle cx="261.9" cy="543.7" r="0.55" fill="#c8ccd8" opacity="0.5"/><circle cx="187.9" cy="518.6" r="0.6" fill="#c8ccd8" opacity="0.3"/><circle cx="272.5" cy="474.8" r="0.5" fill="#d8c0a0" opacity="0.5"/><circle cx="302.9" cy="508.2" r="0.5" fill="#d8c0a0" opacity="0.5"/><circle cx="227.6" cy="543.4" r="1.1" fill="#d8c0a0" opacity="0.7"/><circle cx="172.1" cy="500.8" r="0.55" fill="#d8c0a0" opacity="0.3"/><circle cx="145.9" cy="479.0" r="0.5" fill="#e0d8c8" opacity="0.25"/><circle cx="214.4" cy="516.6" r="0.55" fill="#a8b0c8" opacity="0.25"/><circle cx="144.9" cy="511.6" r="0.7" fill="#a8b0c8" opacity="0.3"/><circle cx="256.6" cy="509.9" r="0.7" fill="#c8ccd8" opacity="0.5"/><circle cx="299.4" cy="534.0" r="1.1" fill="#d8c0a0" opacity="0.5"/><circle cx="196.8" cy="472.4" r="0.8" fill="#d8c0a0" opacity="0.25"/><circle cx="154.1" cy="552.6" r="0.6" fill="#e0d8c8" opacity="0.25"/><circle cx="184.7" cy="467.8" r="0.45" fill="#e0d8c8" opacity="0.7"/><circle cx="135.8" cy="496.1" r="0.45" fill="#c8ccd8" opacity="0.3"/><circle cx="240.9" cy="476.5" r="0.55" fill="#a8b0c8" opacity="0.7"/><circle cx="189.7" cy="474.2" r="1.1" fill="#d8c0a0" opacity="0.5"/><circle cx="213.5" cy="491.4" r="0.5" fill="#c8ccd8" opacity="0.4"/><circle cx="266.8" cy="506.6" r="0.8" fill="#e0d8c8" opacity="0.7"/><circle cx="119.7" cy="549.5" r="0.7" fill="#a8b0c8" opacity="0.3"/><circle cx="256.5" cy="546.2" r="1.1" fill="#a8b0c8" opacity="0.25"/><circle cx="257.7" cy="486.8" r="0.55" fill="#e0d8c8" opacity="0.4"/><circle cx="273.2" cy="511.5" r="1.1" fill="#a8b0c8" opacity="0.3"/><circle cx="240.7" cy="534.7" r="1.1" fill="#e0d8c8" opacity="0.3"/><circle cx="282.8" cy="530.3" r="0.5" fill="#e0d8c8" opacity="0.7"/><circle cx="216.0" cy="529.5" r="0.45" fill="#a8b0c8" opacity="0.5"/><circle cx="168.1" cy="526.0" r="0.55" fill="#d8c0a0" opacity="0.4"/><circle cx="310.8" cy="496.2" r="0.5" fill="#c8ccd8" opacity="0.3"/><circle cx="211.4" cy="493.7" r="0.6" fill="#c8ccd8" opacity="0.5"/><circle cx="301.4" cy="494.3" r="0.8" fill="#c8ccd8" opacity="0.25"/><circle cx="301.5" cy="534.2" r="1.1" fill="#e0d8c8" opacity="0.5"/><circle cx="297.2" cy="502.5" r="0.8" fill="#a8b0c8" opacity="0.25"/><circle cx="279.2" cy="551.4" r="0.6" fill="#d8c0a0" opacity="0.5"/><circle cx="267.4" cy="470.7" r="0.5" fill="#e0d8c8" opacity="0.3"/><circle cx="120.6" cy="516.8" r="0.6" fill="#e0d8c8" opacity="0.7"/><circle cx="284.4" cy="552.2" r="0.8" fill="#a8b0c8" opacity="0.3"/><circle cx="227.5" cy="474.9" r="0.45" fill="#c8ccd8" opacity="0.7"/><circle cx="268.6" cy="475.7" r="1.1" fill="#e0d8c8" opacity="0.3"/><circle cx="120.7" cy="482.4" r="0.7" fill="#e0d8c8" opacity="0.7"/><circle cx="181.8" cy="512.5" r="1.1" fill="#e0d8c8" opacity="0.25"/><circle cx="301.6" cy="495.2" r="0.6" fill="#d8c0a0" opacity="0.7"/><circle cx="141.8" cy="476.8" r="0.7" fill="#c8ccd8" opacity="0.5"/><circle cx="274.2" cy="518.4" r="1.1" fill="#e0d8c8" opacity="0.3"/><circle cx="144.0" cy="519.3" r="0.45" fill="#c8ccd8" opacity="0.4"/><circle cx="254.9" cy="511.3" r="0.6" fill="#c8ccd8" opacity="0.7"/><circle cx="126.6" cy="480.4" r="0.45" fill="#c8ccd8" opacity="0.7"/><circle cx="207.7" cy="465.5" r="0.45" fill="#d8c0a0" opacity="0.4"/><circle cx="240.6" cy="509.0" r="0.7" fill="#e0d8c8" opacity="0.4"/><circle cx="207.7" cy="511.5" r="0.6" fill="#e0d8c8" opacity="0.7"/><circle cx="294.7" cy="548.7" r="0.55" fill="#e0d8c8" opacity="0.5"/><circle cx="143.1" cy="474.1" r="0.6" fill="#a8b0c8" opacity="0.25"/><circle cx="252.6" cy="502.0" r="0.5" fill="#a8b0c8" opacity="0.25"/><circle cx="298.9" cy="477.1" r="0.8" fill="#a8b0c8" opacity="0.3"/><circle cx="166.9" cy="475.5" r="0.6" fill="#e0d8c8" opacity="0.25"/><circle cx="196.6" cy="507.3" r="0.8" fill="#e0d8c8" opacity="0.3"/><circle cx="259.8" cy="553.5" r="0.6" fill="#a8b0c8" opacity="0.5"/><circle cx="155.1" cy="492.0" r="0.8" fill="#a8b0c8" opacity="0.25"/><circle cx="184.3" cy="504.7" r="0.8" fill="#c8ccd8" opacity="0.5"/><circle cx="183.0" cy="519.8" r="0.7" fill="#c8ccd8" opacity="0.25"/><circle cx="316.9" cy="534.7" r="0.45" fill="#c8ccd8" opacity="0.4"/><circle cx="170.7" cy="545.4" r="0.5" fill="#a8b0c8" opacity="0.3"/><circle cx="597.6" cy="540.3" r="0.8" fill="#a8b0c8" opacity="0.5"/><circle cx="454.8" cy="546.6" r="0.7" fill="#d8c8b0" opacity="0.4"/><circle cx="442.1" cy="468.2" r="0.8" fill="#e0e4f0" opacity="0.5"/><circle cx="613.7" cy="487.5" r="0.45" fill="#c8ccd8" opacity="0.4"/><circle cx="440.8" cy="540.9" r="0.45" fill="#a8b0c8" opacity="0.25"/><circle cx="519.7" cy="493.9" r="0.7" fill="#d8c8b0" opacity="0.4"/><circle cx="555.4" cy="466.9" r="0.8" fill="#e0e4f0" opacity="0.25"/><circle cx="629.4" cy="486.8" r="0.5" fill="#e0e4f0" opacity="0.4"/><circle cx="556.9" cy="511.3" r="0.5" fill="#a8b0c8" opacity="0.5"/><circle cx="529.5" cy="479.2" r="0.55" fill="#c8ccd8" opacity="0.4"/><circle cx="430.9" cy="464.7" r="0.7" fill="#e0e4f0" opacity="0.7"/><circle cx="524.1" cy="548.1" r="0.45" fill="#d8c8b0" opacity="0.5"/><circle cx="539.3" cy="543.9" r="0.7" fill="#a8b0c8" opacity="0.3"/><circle cx="632.3" cy="494.2" r="1.1" fill="#e0e4f0" opacity="0.5"/><circle cx="633.8" cy="552.4" r="1.1" fill="#e0e4f0" opacity="0.25"/><circle cx="438.1" cy="530.4" r="0.55" fill="#d8c8b0" opacity="0.3"/><circle cx="434.8" cy="523.5" r="0.6" fill="#a8b0c8" opacity="0.7"/><circle cx="474.6" cy="489.7" r="0.6" fill="#e0e4f0" opacity="0.3"/><circle cx="480.3" cy="463.3" r="0.55" fill="#a8b0c8" opacity="0.7"/><circle cx="491.9" cy="466.1" r="0.55" fill="#e0e4f0" opacity="0.4"/><circle cx="462.0" cy="493.5" r="0.45" fill="#d8c8b0" opacity="0.4"/><circle cx="530.1" cy="481.3" r="0.7" fill="#c8ccd8" opacity="0.25"/><circle cx="479.3" cy="471.2" r="0.6" fill="#c8ccd8" opacity="0.5"/><circle cx="427.8" cy="490.7" r="0.5" fill="#c8ccd8" opacity="0.7"/><circle cx="627.0" cy="540.6" r="0.5" fill="#d8c8b0" opacity="0.4"/><circle cx="576.5" cy="508.0" r="0.55" fill="#e0e4f0" opacity="0.25"/><circle cx="598.7" cy="528.1" r="0.7" fill="#d8c8b0" opacity="0.7"/><circle cx="452.7" cy="510.7" r="0.7" fill="#c8ccd8" opacity="0.7"/><circle cx="593.0" cy="527.7" r="0.8" fill="#e0e4f0" opacity="0.25"/><circle cx="429.6" cy="475.1" r="0.55" fill="#c8ccd8" opacity="0.5"/><circle cx="601.0" cy="513.8" r="0.8" fill="#c8ccd8" opacity="0.7"/><circle cx="568.0" cy="507.5" r="0.45" fill="#d8c8b0" opacity="0.25"/><circle cx="582.4" cy="508.8" r="0.7" fill="#c8ccd8" opacity="0.7"/><circle cx="437.1" cy="530.0" r="0.55" fill="#c8ccd8" opacity="0.4"/><circle cx="473.0" cy="531.8" r="0.5" fill="#d8c8b0" opacity="0.5"/><circle cx="603.1" cy="470.0" r="0.8" fill="#a8b0c8" opacity="0.25"/><circle cx="554.4" cy="521.5" r="0.45" fill="#e0e4f0" opacity="0.4"/><circle cx="477.1" cy="530.6" r="0.55" fill="#e0e4f0" opacity="0.25"/><circle cx="525.8" cy="507.2" r="0.8" fill="#c8ccd8" opacity="0.3"/><circle cx="566.9" cy="489.5" r="0.7" fill="#a8b0c8" opacity="0.5"/><circle cx="522.2" cy="532.8" r="0.7" fill="#e0e4f0" opacity="0.4"/><circle cx="631.3" cy="548.2" r="0.45" fill="#a8b0c8" opacity="0.5"/><circle cx="439.3" cy="509.1" r="0.6" fill="#a8b0c8" opacity="0.5"/><circle cx="467.7" cy="549.0" r="0.5" fill="#c8ccd8" opacity="0.7"/><circle cx="442.2" cy="531.0" r="0.55" fill="#a8b0c8" opacity="0.3"/><circle cx="551.5" cy="520.5" r="0.55" fill="#c8ccd8" opacity="0.4"/><circle cx="472.3" cy="544.7" r="0.6" fill="#d8c8b0" opacity="0.25"/><circle cx="456.9" cy="549.4" r="0.8" fill="#d8c8b0" opacity="0.5"/><circle cx="487.3" cy="475.8" r="0.55" fill="#d8c8b0" opacity="0.4"/><circle cx="448.8" cy="493.2" r="0.55" fill="#a8b0c8" opacity="0.5"/><circle cx="448.6" cy="547.3" r="0.8" fill="#c8ccd8" opacity="0.4"/><circle cx="476.9" cy="468.9" r="0.6" fill="#c8ccd8" opacity="0.4"/><circle cx="620.1" cy="531.8" r="1.1" fill="#c8ccd8" opacity="0.4"/><circle cx="444.7" cy="539.0" r="0.55" fill="#e0e4f0" opacity="0.3"/><circle cx="629.8" cy="502.7" r="0.55" fill="#e0e4f0" opacity="0.4"/><circle cx="590.2" cy="501.9" r="0.45" fill="#d8c8b0" opacity="0.7"/><circle cx="540.0" cy="528.5" r="0.45" fill="#d8c8b0" opacity="0.5"/><circle cx="554.0" cy="475.6" r="1.1" fill="#a8b0c8" opacity="0.5"/><circle cx="433.4" cy="547.3" r="0.5" fill="#e0e4f0" opacity="0.5"/><circle cx="511.4" cy="488.6" r="0.55" fill="#a8b0c8" opacity="0.5"/><circle cx="562.7" cy="490.4" r="0.7" fill="#d8c8b0" opacity="0.25"/><circle cx="458.6" cy="477.7" r="0.5" fill="#d8c8b0" opacity="0.7"/><circle cx="469.9" cy="545.5" r="1.1" fill="#d8c8b0" opacity="0.5"/><circle cx="452.7" cy="480.5" r="0.45" fill="#e0e4f0" opacity="0.4"/><circle cx="541.4" cy="492.1" r="0.55" fill="#a8b0c8" opacity="0.7"/><circle cx="466.1" cy="464.8" r="1.1" fill="#d8c8b0" opacity="0.5"/><circle cx="511.2" cy="510.7" r="0.6" fill="#a8b0c8" opacity="0.4"/><circle cx="583.2" cy="508.3" r="0.7" fill="#a8b0c8" opacity="0.3"/><circle cx="569.3" cy="511.2" r="1.1" fill="#e0e4f0" opacity="0.25"/><circle cx="480.7" cy="485.6" r="0.6" fill="#d8c8b0" opacity="0.5"/><circle cx="626.2" cy="540.2" r="1.1" fill="#c8ccd8" opacity="0.3"/><circle cx="429.9" cy="527.6" r="1.1" fill="#d8c8b0" opacity="0.7"/><circle cx="527.3" cy="469.7" r="1.1" fill="#d8c8b0" opacity="0.5"/><circle cx="475.9" cy="472.9" r="0.5" fill="#e0e4f0" opacity="0.7"/><circle cx="630.0" cy="472.9" r="1.1" fill="#d8c8b0" opacity="0.25"/><circle cx="540.5" cy="466.6" r="1.1" fill="#e0e4f0" opacity="0.3"/><circle cx="544.3" cy="466.4" r="0.8" fill="#a8b0c8" opacity="0.3"/><circle cx="556.4" cy="511.1" r="0.6" fill="#c8ccd8" opacity="0.25"/><circle cx="438.0" cy="510.7" r="0.7" fill="#e0e4f0" opacity="0.5"/><circle cx="478.6" cy="534.9" r="0.45" fill="#c8ccd8" opacity="0.7"/><circle cx="487.2" cy="504.9" r="0.55" fill="#e0e4f0" opacity="0.5"/><circle cx="535.1" cy="512.8" r="0.45" fill="#d8c8b0" opacity="0.4"/><circle cx="434.8" cy="480.7" r="0.8" fill="#d8c8b0" opacity="0.25"/><circle cx="477.8" cy="523.7" r="0.55" fill="#e0e4f0" opacity="0.5"/><circle cx="430.3" cy="493.8" r="0.6" fill="#a8b0c8" opacity="0.5"/><circle cx="465.2" cy="535.5" r="0.8" fill="#c8ccd8" opacity="0.3"/><circle cx="528.6" cy="481.2" r="1.1" fill="#e0e4f0" opacity="0.3"/><circle cx="522.1" cy="487.1" r="0.55" fill="#c8ccd8" opacity="0.7"/><circle cx="528.6" cy="480.0" r="0.5" fill="#d8c8b0" opacity="0.5"/><circle cx="616.9" cy="468.1" r="0.7" fill="#e0e4f0" opacity="0.5"/><circle cx="434.6" cy="465.2" r="0.7" fill="#e0e4f0" opacity="0.5"/><circle cx="434.0" cy="468.5" r="0.6" fill="#d8c8b0" opacity="0.4"/><circle cx="579.1" cy="553.8" r="0.5" fill="#a8b0c8" opacity="0.3"/><circle cx="462.5" cy="548.2" r="0.8" fill="#d8c8b0" opacity="0.25"/><circle cx="489.4" cy="529.0" r="1.1" fill="#a8b0c8" opacity="0.4"/><circle cx="517.2" cy="472.9" r="0.45" fill="#a8b0c8" opacity="0.25"/><circle cx="497.9" cy="550.0" r="0.45" fill="#e0e4f0" opacity="0.5"/><circle cx="499.0" cy="537.8" r="1.1" fill="#d8c8b0" opacity="0.25"/><circle cx="433.5" cy="506.1" r="0.55" fill="#d8c8b0" opacity="0.3"/><circle cx="491.9" cy="530.1" r="0.6" fill="#c8ccd8" opacity="0.5"/><circle cx="475.8" cy="519.9" r="0.6" fill="#c8ccd8" opacity="0.5"/><circle cx="430.4" cy="468.7" r="0.45" fill="#a8b0c8" opacity="0.3"/><circle cx="582.2" cy="544.8" r="0.55" fill="#a8b0c8" opacity="0.4"/><circle cx="494.3" cy="549.8" r="0.45" fill="#a8b0c8" opacity="0.4"/><circle cx="619.9" cy="490.1" r="0.8" fill="#c8ccd8" opacity="0.25"/><circle cx="598.9" cy="472.8" r="0.8" fill="#d8c8b0" opacity="0.5"/><circle cx="591.2" cy="546.1" r="1.1" fill="#d8c8b0" opacity="0.3"/><circle cx="620.7" cy="479.6" r="1.1" fill="#a8b0c8" opacity="0.3"/><circle cx="552.3" cy="492.8" r="0.55" fill="#d8c8b0" opacity="0.4"/><circle cx="590.0" cy="517.2" r="0.7" fill="#e0e4f0" opacity="0.5"/><circle cx="742.7" cy="485.5" r="0.45" fill="#c8ccd8" opacity="0.5"/><circle cx="714.8" cy="492.6" r="0.6" fill="#c8ccd8" opacity="0.25"/><circle cx="674.8" cy="470.7" r="0.45" fill="#b0b0a8" opacity="0.5"/><circle cx="775.4" cy="551.5" r="0.5" fill="#c8ccd8" opacity="0.3"/><circle cx="695.9" cy="519.4" r="0.8" fill="#c8ccd8" opacity="0.7"/><circle cx="755.7" cy="523.5" r="0.45" fill="#b0b0a8" opacity="0.4"/><circle cx="676.8" cy="487.4" r="0.55" fill="#b0b0a8" opacity="0.3"/><circle cx="699.1" cy="479.9" r="0.5" fill="#c8ccd8" opacity="0.4"/><circle cx="760.9" cy="515.6" r="0.55" fill="#c8ccd8" opacity="0.5"/><circle cx="673.0" cy="485.4" r="0.7" fill="#c8ccd8" opacity="0.25"/><circle cx="728.8" cy="553.2" r="0.45" fill="#c8ccd8" opacity="0.5"/><circle cx="760.7" cy="484.0" r="0.6" fill="#b0b0a8" opacity="0.25"/><circle cx="759.9" cy="484.2" r="0.45" fill="#c8ccd8" opacity="0.7"/><circle cx="773.2" cy="516.1" r="0.45" fill="#b0b0a8" opacity="0.7"/><circle cx="758.4" cy="503.9" r="0.55" fill="#c8ccd8" opacity="0.25"/><circle cx="726.6" cy="527.6" r="0.55" fill="#c8ccd8" opacity="0.25"/><circle cx="689.3" cy="475.9" r="0.5" fill="#b0b0a8" opacity="0.25"/><circle cx="721.3" cy="522.3" r="0.5" fill="#c8ccd8" opacity="0.4"/><circle cx="694.9" cy="496.8" r="0.7" fill="#b0b0a8" opacity="0.25"/><circle cx="666.3" cy="535.4" r="0.7" fill="#b0b0a8" opacity="0.25"/><circle cx="694.7" cy="535.4" r="0.8" fill="#c8ccd8" opacity="0.7"/><circle cx="650.7" cy="477.9" r="0.8" fill="#b0b0a8" opacity="0.5"/><circle cx="775.4" cy="523.8" r="0.6" fill="#c8ccd8" opacity="0.4"/><circle cx="741.6" cy="543.4" r="0.6" fill="#b0b0a8" opacity="0.25"/><circle cx="758.1" cy="553.7" r="0.55" fill="#c8ccd8" opacity="0.5"/><circle cx="840.4" cy="480.7" r="0.45" fill="#c8b0b0" opacity="0.3"/><circle cx="815.2" cy="537.5" r="0.6" fill="#f0e0d0" opacity="0.4"/><circle cx="818.3" cy="477.0" r="0.45" fill="#e0c8c0" opacity="0.7"/><circle cx="791.8" cy="536.2" r="0.6" fill="#e0c8c0" opacity="0.7"/><circle cx="831.6" cy="496.1" r="0.7" fill="#e0c8c0" opacity="0.3"/><circle cx="808.9" cy="476.9" r="0.5" fill="#e0c8c0" opacity="0.25"/><circle cx="811.8" cy="531.3" r="1.1" fill="#e0c8c0" opacity="0.4"/><circle cx="790.5" cy="548.8" r="0.6" fill="#c8b0b0" opacity="0.25"/><circle cx="830.4" cy="520.5" r="0.45" fill="#f0e0d0" opacity="0.7"/><circle cx="837.1" cy="544.0" r="0.8" fill="#e0c8c0" opacity="0.7"/><circle cx="813.6" cy="539.9" r="1.1" fill="#c8b0b0" opacity="0.3"/><circle cx="826.9" cy="465.8" r="0.7" fill="#e0c8c0" opacity="0.5"/><circle cx="809.8" cy="475.8" r="0.8" fill="#e0c8c0" opacity="0.25"/><circle cx="853.4" cy="539.5" r="0.8" fill="#e0c8c0" opacity="0.4"/><circle cx="789.8" cy="517.2" r="0.7" fill="#f0e0d0" opacity="0.4"/><circle cx="833.9" cy="490.4" r="0.5" fill="#c8b0b0" opacity="0.5"/><circle cx="834.7" cy="503.1" r="0.6" fill="#e0c8c0" opacity="0.25"/><circle cx="780.3" cy="552.7" r="0.6" fill="#e0c8c0" opacity="0.5"/><circle cx="843.4" cy="533.8" r="0.6" fill="#e0c8c0" opacity="0.5"/><circle cx="813.2" cy="468.2" r="0.55" fill="#c8b0b0" opacity="0.4"/><circle cx="787.6" cy="502.7" r="0.7" fill="#f0e0d0" opacity="0.25"/><circle cx="783.4" cy="474.0" r="0.8" fill="#c8b0b0" opacity="0.7"/><circle cx="786.6" cy="531.2" r="0.6" fill="#f0e0d0" opacity="0.3"/><circle cx="782.1" cy="468.1" r="0.7" fill="#f0e0d0" opacity="0.25"/><circle cx="796.1" cy="552.3" r="0.6" fill="#c8b0b0" opacity="0.3"/><circle cx="836.9" cy="528.3" r="0.5" fill="#e0c8c0" opacity="0.4"/><circle cx="830.7" cy="485.2" r="0.55" fill="#f0e0d0" opacity="0.4"/><circle cx="855.1" cy="504.0" r="0.55" fill="#f0e0d0" opacity="0.5"/><circle cx="797.3" cy="486.2" r="0.7" fill="#e0c8c0" opacity="0.4"/><circle cx="810.9" cy="480.3" r="0.6" fill="#e0c8c0" opacity="0.4"/><circle cx="836.4" cy="544.4" r="0.5" fill="#c8b0b0" opacity="0.25"/><circle cx="843.8" cy="466.5" r="1.1" fill="#c8b0b0" opacity="0.5"/><circle cx="826.1" cy="515.4" r="0.45" fill="#c8b0b0" opacity="0.7"/><circle cx="832.3" cy="498.3" r="1.1" fill="#c8b0b0" opacity="0.4"/><circle cx="811.2" cy="495.9" r="0.5" fill="#c8b0b0" opacity="0.4"/><circle cx="843.5" cy="502.7" r="0.5" fill="#f0e0d0" opacity="0.25"/><circle cx="804.6" cy="509.5" r="0.55" fill="#f0e0d0" opacity="0.7"/><circle cx="857.1" cy="544.4" r="0.8" fill="#e0c8c0" opacity="0.25"/><circle cx="798.4" cy="488.8" r="0.8" fill="#c8b0b0" opacity="0.5"/><circle cx="822.6" cy="544.4" r="0.5" fill="#c8b0b0" opacity="0.3"/><circle cx="830.8" cy="466.2" r="0.45" fill="#e0c8c0" opacity="0.7"/><circle cx="809.5" cy="471.8" r="0.55" fill="#f0e0d0" opacity="0.3"/><circle cx="814.3" cy="489.7" r="0.5" fill="#e0c8c0" opacity="0.4"/><circle cx="831.8" cy="505.7" r="0.5" fill="#e0c8c0" opacity="0.3"/><circle cx="838.7" cy="503.5" r="0.45" fill="#f0e0d0" opacity="0.3"/><circle cx="173" cy="470" r="1.5" fill="#d8dce8"/><circle cx="190" cy="523.4" r="1.2" fill="#e8c8a0"/><circle cx="314.1" cy="513.9" r="1.7" fill="#f0dcc0"/><circle cx="273.3" cy="543" r="1.2" fill="#e0b890"/><circle cx="215.1" cy="491.1" r="1" fill="#c8ccd8"/><circle cx="219.9" cy="491.1" r="1" fill="#c8ccd8"/><circle cx="242.6" cy="528.9" r="1" fill="#d8d0c0"/><circle cx="274.9" cy="466" r="1" fill="#d0d4e0"/><circle cx="479.4" cy="476.7" r="1.7" fill="#f0f0f8"/><circle cx="438.9" cy="502.1" r="1.3" fill="#e0e4f0"/><circle cx="442" cy="507.6" r="1.2" fill="#e0e4f0"/><circle cx="461.6" cy="483.3" r="1.2" fill="#e8ecf8"/><circle cx="427.9" cy="475.1" r="1.1" fill="#dfe4f0"/><circle cx="492.3" cy="546.9" r="1.3" fill="#f0f0f8"/><circle cx="515.9" cy="506.9" r="1.1" fill="#dfe4f0"/><circle cx="482.9" cy="519.1" r="1.1" fill="#e8ecf8"/><circle cx="486" cy="492.7" r="1" fill="#dfe4f0"/><circle cx="442.8" cy="550.9" r="1" fill="#dfe4f0"/><circle cx="520.6" cy="473.1" r="1" fill="#dfe4f0"/><circle cx="768.8" cy="539.4" r="2" fill="#f0f0ff"/><circle cx="706.6" cy="482.8" r="1.3" fill="#d8d8d8"/><circle cx="776.3" cy="471.2" r="1.1" fill="#e0e0e0"/><circle cx="799" cy="552" r="1.8" fill="#d8d8f0"/><circle cx="861" cy="491.5" r="1.4" fill="#f0e8f0"/><circle cx="837" cy="495.5" r="1.3" fill="#f0e0e0"/><circle cx="836" cy="502.5" r="1.1" fill="#f0e0e0"/><circle cx="795" cy="463" r="1.8" fill="#c0a898"/><circle cx="850" cy="463" r="2" fill="#c0a898"/><circle cx="776.5" cy="471" r="1" fill="#e0d0d0"/><circle cx="860" cy="538" r="1.2" fill="#e0c090"/></g>
</g>
<rect x="100.8" y="15.4" width="232.2" height="22.8" fill="#257f78"/>
<rect x="215.8" y="38.1" width="232.0" height="24.2" fill="#257f78"/>
<rect x="285.4" y="62" width="216.1" height="23.4" fill="#257f78"/>
<rect x="570.2" y="62" width="291.5" height="23.4" fill="#257f78"/>
<text x="144.6" y="34.8" font-family='"Liberation Sans",sans-serif' font-weight="bold" font-size="20.5" fill="#fff" textLength="122" lengthAdjust="spacingAndGlyphs">Reionization</text>
<text x="275.3" y="55.9" font-family='"Liberation Sans",sans-serif' font-weight="bold" font-size="20.5" fill="#fff" textLength="130.1" lengthAdjust="spacingAndGlyphs">Stellar Winds</text>
<text x="334.2" y="79.0" font-family='"Liberation Sans",sans-serif' font-weight="bold" font-size="20.5" fill="#fff" textLength="117.9" lengthAdjust="spacingAndGlyphs">Supernovae</text>
<text x="693" y="81.9" font-family='"Liberation Sans",sans-serif' font-weight="bold" font-size="20.8" fill="#fff" textLength="44.4" lengthAdjust="spacingAndGlyphs">AGN</text>
<text x="142.6" y="618.3" font-family='"DejaVu Serif","Liberation Serif",serif' font-size="24.5" fill="#231f20" stroke="#231f20" stroke-width="0.35" text-anchor="start">10<tspan dy="-8.5" dx="-1.2" font-size="15.5" font-weight="bold" stroke="none">8</tspan></text>
<text x="243.0" y="618.3" font-family='"DejaVu Serif","Liberation Serif",serif' font-size="24.5" fill="#231f20" stroke="#231f20" stroke-width="0.35" text-anchor="start">10<tspan dy="-8.5" dx="-1.2" font-size="15.5" font-weight="bold" stroke="none">9</tspan></text>
<text x="338.4" y="618.3" font-family='"DejaVu Serif","Liberation Serif",serif' font-size="24.5" fill="#231f20" stroke="#231f20" stroke-width="0.35" text-anchor="start">10<tspan dy="-8.5" dx="-1.2" font-size="15.5" font-weight="bold" stroke="none">10</tspan></text>
<text x="438.8" y="618.3" font-family='"DejaVu Serif","Liberation Serif",serif' font-size="24.5" fill="#231f20" stroke="#231f20" stroke-width="0.35" text-anchor="start">10<tspan dy="-8.5" dx="-1.2" font-size="15.5" font-weight="bold" stroke="none">11</tspan></text>
<text x="539.2" y="618.3" font-family='"DejaVu Serif","Liberation Serif",serif' font-size="24.5" fill="#231f20" stroke="#231f20" stroke-width="0.35" text-anchor="start">10<tspan dy="-8.5" dx="-1.2" font-size="15.5" font-weight="bold" stroke="none">12</tspan></text>
<text x="639.6" y="618.3" font-family='"DejaVu Serif","Liberation Serif",serif' font-size="24.5" fill="#231f20" stroke="#231f20" stroke-width="0.35" text-anchor="start">10<tspan dy="-8.5" dx="-1.2" font-size="15.5" font-weight="bold" stroke="none">13</tspan></text>
<text x="740.0" y="618.3" font-family='"DejaVu Serif","Liberation Serif",serif' font-size="24.5" fill="#231f20" stroke="#231f20" stroke-width="0.35" text-anchor="start">10<tspan dy="-8.5" dx="-1.2" font-size="15.5" font-weight="bold" stroke="none">14</tspan></text>
<text x="840.4" y="618.3" font-family='"DejaVu Serif","Liberation Serif",serif' font-size="24.5" fill="#231f20" stroke="#231f20" stroke-width="0.35" text-anchor="start">10<tspan dy="-8.5" dx="-1.2" font-size="15.5" font-weight="bold" stroke="none">15</tspan></text>
<text x="44.3" y="593.8" font-family='"DejaVu Serif","Liberation Serif",serif' font-size="24.5" fill="#231f20" stroke="#231f20" stroke-width="0.35">10</text>
<text x="76.8" y="585.3" font-family='"DejaVu Serif","Liberation Serif",serif' font-size="15.5" font-weight="bold" fill="#231f20" textLength="19.4" lengthAdjust="spacingAndGlyphs">-5</text>
<text x="44.3" y="468.7" font-family='"DejaVu Serif","Liberation Serif",serif' font-size="24.5" fill="#231f20" stroke="#231f20" stroke-width="0.35">10</text>
<text x="76.8" y="460.2" font-family='"DejaVu Serif","Liberation Serif",serif' font-size="15.5" font-weight="bold" fill="#231f20" textLength="19.4" lengthAdjust="spacingAndGlyphs">-4</text>
<text x="44.3" y="343.7" font-family='"DejaVu Serif","Liberation Serif",serif' font-size="24.5" fill="#231f20" stroke="#231f20" stroke-width="0.35">10</text>
<text x="76.8" y="335.2" font-family='"DejaVu Serif","Liberation Serif",serif' font-size="15.5" font-weight="bold" fill="#231f20" textLength="19.4" lengthAdjust="spacingAndGlyphs">-3</text>
<text x="44.3" y="218.6" font-family='"DejaVu Serif","Liberation Serif",serif' font-size="24.5" fill="#231f20" stroke="#231f20" stroke-width="0.35">10</text>
<text x="76.8" y="210.1" font-family='"DejaVu Serif","Liberation Serif",serif' font-size="15.5" font-weight="bold" fill="#231f20" textLength="19.4" lengthAdjust="spacingAndGlyphs">-2</text>
<text x="96.3" y="93.5" font-family='"DejaVu Serif","Liberation Serif",serif' font-size="24.5" fill="#231f20" stroke="#231f20" stroke-width="0.35" text-anchor="end">0.1</text>
<text x="365" y="653" font-family='"DejaVu Serif","Liberation Serif",serif' font-size="24" fill="#231f20" stroke="#231f20" stroke-width="0.8" textLength="58.5" lengthAdjust="spacingAndGlyphs">Halo</text>
<text x="438" y="653" font-family='"DejaVu Serif","Liberation Serif",serif' font-size="24" fill="#231f20" stroke="#231f20" stroke-width="0.8" textLength="62.5" lengthAdjust="spacingAndGlyphs">Mass</text>
<text x="514.5" y="653" font-family='"DejaVu Serif","Liberation Serif",serif' font-size="24" fill="#231f20" stroke="#231f20" stroke-width="1.1" textLength="19.5" lengthAdjust="spacingAndGlyphs">M</text>
<text x="534.3" y="660.9" font-family='"DejaVu Serif","Liberation Serif",serif' font-size="17.5" fill="#231f20" font-weight="bold" textLength="9.8" lengthAdjust="spacingAndGlyphs">h</text>
<text x="558" y="654.5" font-family='"DejaVu Serif","Liberation Serif",serif' font-size="25" fill="#231f20" stroke="#231f20" stroke-width="0.8">[</text>
<text x="568.4" y="653" font-family='"DejaVu Serif","Liberation Serif",serif' font-size="24" fill="#231f20" stroke="#231f20" stroke-width="1.1" textLength="21" lengthAdjust="spacingAndGlyphs">M</text>
<text x="589.3" y="660" font-family='"DejaVu Serif","Liberation Serif",serif' font-size="15.5" fill="#231f20" font-weight="bold" textLength="12" lengthAdjust="spacingAndGlyphs">⊙</text>
<text x="603.5" y="654.5" font-family='"DejaVu Serif","Liberation Serif",serif' font-size="25" fill="#231f20" stroke="#231f20" stroke-width="0.8">]</text>
<g transform="translate(21,375) rotate(-90)">
<text x="0" y="0" font-family='"DejaVu Serif","Liberation Serif",serif' font-size="24" fill="#231f20" stroke="#231f20" stroke-width="1.1" textLength="18.5" lengthAdjust="spacingAndGlyphs">M</text>
<text x="19" y="8.5" font-family='"DejaVu Serif","Liberation Serif",serif' font-size="22" fill="#231f20" font-weight="bold" textLength="11.5" lengthAdjust="spacingAndGlyphs">∗</text>
<text x="36" y="2" transform="skewX(-20)" font-family='"DejaVu Serif","Liberation Serif",serif' font-size="28" fill="#231f20" stroke="#231f20" stroke-width="0.5">/</text>
<text x="51.5" y="0" font-family='"DejaVu Serif","Liberation Serif",serif' font-size="24" fill="#231f20" stroke="#231f20" stroke-width="1.1" textLength="18.5" lengthAdjust="spacingAndGlyphs">M</text>
<text x="71" y="8" font-family='"DejaVu Serif","Liberation Serif",serif' font-size="16.5" fill="#231f20" font-weight="bold" textLength="9.5" lengthAdjust="spacingAndGlyphs">h</text>
</g>
<path d="M128.4 109.20H178.2" stroke="#231f20" stroke-width="4.5" fill="none"/>
<text x="189" y="114.50" font-family='"DejaVu Serif Condensed","DejaVu Serif","Liberation Serif",serif' font-size="14.8" fill="#231f20" stroke="#231f20" stroke-width="0.3" textLength="190.4" lengthAdjust="spacing">Behroozi et al. 2010 (AM)</text>
<path d="M128.4 134.23H178.2" stroke="#ad3247" stroke-width="4.5" stroke-dasharray="2.6 4.9" fill="none"/>
<text x="189" y="139.53" font-family='"DejaVu Serif Condensed","DejaVu Serif","Liberation Serif",serif' font-size="14.8" fill="#231f20" stroke="#231f20" stroke-width="0.3" textLength="199.8" lengthAdjust="spacing">Behroozi et al. 2013a (AM)</text>
<path d="M128.4 159.26H178.2" stroke="#e62e3d" stroke-width="4.5" stroke-dasharray="13 10" fill="none"/>
<text x="189" y="164.56" font-family='"DejaVu Serif Condensed","DejaVu Serif","Liberation Serif",serif' font-size="14.8" fill="#231f20" stroke="#231f20" stroke-width="0.3" textLength="183.0" lengthAdjust="spacing">Reddick et al. 2013 (AM)</text>
<path d="M128.4 184.29H178.2" stroke="#f28e37" stroke-width="4.5" stroke-dasharray="33 10 7 10" fill="none"/>
<text x="189" y="189.59" font-family='"DejaVu Serif Condensed","DejaVu Serif","Liberation Serif",serif' font-size="14.8" fill="#231f20" stroke="#231f20" stroke-width="0.3" textLength="183.0" lengthAdjust="spacing">Moster et al. 2013 (pAM)</text>
<path d="M128.4 209.32H178.2" stroke="#f7d42a" stroke-width="4.5" stroke-dasharray="2.5 5.5 13 5" fill="none"/>
<text x="189" y="214.62" font-family='"DejaVu Serif Condensed","DejaVu Serif","Liberation Serif",serif' font-size="14.8" fill="#231f20" stroke="#231f20" stroke-width="0.3" textLength="183.0" lengthAdjust="spacing">Moster et al. 2017 (pAM)</text>
<path d="M128.4 234.35H178.2" stroke="#67b843" stroke-width="4.5" stroke-dasharray="24.5 3 1.5 3" fill="none"/>
<text x="189" y="239.65" font-family='"DejaVu Serif Condensed","DejaVu Serif","Liberation Serif",serif' font-size="14.8" fill="#231f20" stroke="#231f20" stroke-width="0.3" textLength="160.7" lengthAdjust="spacing">Guo et al. 2010 (pAM)</text>
<path d="M128.4 259.38H178.2" stroke="#6fcde0" stroke-width="4.5" stroke-dasharray="24.4 9.7 9.4 9.7" fill="none"/>
<text x="189" y="264.68" font-family='"DejaVu Serif Condensed","DejaVu Serif","Liberation Serif",serif' font-size="14.8" fill="#231f20" stroke="#231f20" stroke-width="0.3" textLength="203.8" lengthAdjust="spacing">Wang&amp;Jin et al. 2010 (pAM)</text>
<path d="M128.4 284.41H178.2" stroke="#3f56a5" stroke-width="4.5" fill="none"/>
<text x="189" y="289.71" font-family='"DejaVu Serif Condensed","DejaVu Serif","Liberation Serif",serif' font-size="14.8" fill="#231f20" stroke="#231f20" stroke-width="0.3" textLength="179.6" lengthAdjust="spacing">Zheng et al. 2007 (HOD)</text>
<path d="M128.4 309.44H178.2" stroke="#7f5aa8" stroke-width="4.5" stroke-dasharray="2.6 4.9" fill="none"/>
<text x="189" y="314.74" font-family='"DejaVu Serif Condensed","DejaVu Serif","Liberation Serif",serif' font-size="14.8" fill="#231f20" stroke="#231f20" stroke-width="0.3" textLength="166.1" lengthAdjust="spacing">Yang et al. 2012 (CLF)</text>
<path d="M128.4 334.47H178.2" stroke="#b04a9c" stroke-width="4.5" stroke-dasharray="13 10" fill="none"/>
<text x="189" y="339.77" font-family='"DejaVu Serif Condensed","DejaVu Serif","Liberation Serif",serif' font-size="14.8" fill="#231f20" stroke="#231f20" stroke-width="0.3" textLength="159.4" lengthAdjust="spacing">Yang et al. 2009 (GG)</text>
<path d="M128.4 359.50H178.2" stroke="#f4e536" stroke-width="4.5" stroke-dasharray="33 10 7 10" fill="none"/>
<text x="189" y="364.80" font-family='"DejaVu Serif Condensed","DejaVu Serif","Liberation Serif",serif' font-size="14.8" fill="#231f20" stroke="#231f20" stroke-width="0.3" textLength="175.2" lengthAdjust="spacing">Hansen et al. 2009 (CL)</text>
<path d="M128.4 384.53H178.2" stroke="#d2a3cc" stroke-width="4.5" stroke-dasharray="2.5 5.5 13 5" fill="none"/>
<text x="189" y="389.83" font-family='"DejaVu Serif Condensed","DejaVu Serif","Liberation Serif",serif' font-size="14.8" fill="#231f20" stroke="#231f20" stroke-width="0.3" textLength="192.0" lengthAdjust="spacing">Lin&amp;Mohr et al. 2004 (CL)</text>
<path d="M128.4 409.56H178.2" stroke="#2e8b57" stroke-width="4.5" stroke-dasharray="24.5 3 1.5 3" fill="none"/>
<text x="189" y="414.86" font-family='"DejaVu Serif Condensed","DejaVu Serif","Liberation Serif",serif' font-size="14.8" fill="#231f20" stroke="#231f20" stroke-width="0.3" textLength="220.0" lengthAdjust="spacing">Kravtsov et al. 2018 (AM+CL)</text>
<path d="M128.4 434.59H178.2" stroke="#b1305f" stroke-width="4.5" stroke-dasharray="24.4 9.7 9.4 9.7" fill="none"/>
<text x="189" y="439.89" font-family='"DejaVu Serif Condensed","DejaVu Serif","Liberation Serif",serif' font-size="14.8" fill="#231f20" stroke="#231f20" stroke-width="0.3" textLength="192.0" lengthAdjust="spacing">Behroozi et al. 2018 (UM)</text>
</svg>
</body></html>
